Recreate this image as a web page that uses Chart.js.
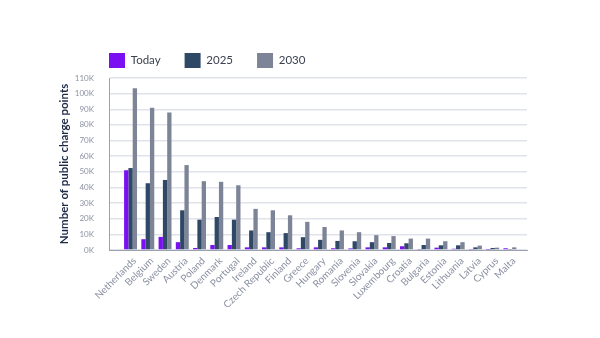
<!DOCTYPE html>
<html>
<head>
<meta charset="utf-8">
<script src="https://cdn.jsdelivr.net/npm/chart.js@4"></script>
<style>
  html, body { margin: 0; padding: 0; background: #ffffff; }
  #wrap { width: 600px; height: 338px; position: relative; }
</style>
</head>
<body>
<div id="wrap"><canvas id="chart" width="600" height="338"></canvas></div>
<script>
// Public charge points per country, in thousands
const countries = ['Netherlands', 'Belgium', 'Sweden', 'Austria', 'Poland', 'Denmark', 'Portugal',
  'Ireland', 'Czech Republic', 'Finland', 'Greece', 'Hungary', 'Romania', 'Slovenia', 'Slovakia',
  'Luxembourg', 'Croatia', 'Bulgaria', 'Estonia', 'Lithuania', 'Latvia', 'Cyprus', 'Malta'];
const today = [51, 6.9, 8.4, 5, 1.3, 3.2, 3.2, 1.7, 1.7, 1.7, 1.1, 1.7, 1.1, 1, 1.7, 1.7, 2.4, 0.3, 1.5, 0.8, 0.3, 0.2, 1.1];
const y2025 = [52.4, 42.7, 44.8, 25.4, 19.4, 21.1, 19.4, 12.5, 11.4, 10.8, 8.2, 6.5, 5.8, 5.6, 5, 4.5, 4.3, 3.2, 3, 3, 1.7, 1.3, 0.3];
const y2030 = [103.5, 91, 88, 54.3, 44, 43.6, 41.4, 26.3, 25.4, 22.2, 18, 14.7, 12.5, 11.4, 9.5, 8.9, 7.3, 7.3, 5.6, 5, 2.8, 1.5, 1.7];
const seriesNames = ['Today', '2025', '2030'];
const yTickValues = [0, 10, 20, 30, 40, 50, 60, 70, 80, 90, 100, 110];

const FONT = 'Lato, "Noto Sans", sans-serif';

function points(values) {
  return values.map((v, i) => ({ x: i, y: v * 1000 }));
}

// Puts the legend row flush with the left edge of the plot area
const legendAtPlotLeft = {
  id: 'legendAtPlotLeft',
  afterLayout(chart) {
    const lg = chart.legend;
    if (!lg) return;
    const pad = lg.options.labels.padding;
    const dx = chart.chartArea.left - pad - lg.left;
    lg.left += dx;
    lg.right += dx;
  }
};

new Chart(document.getElementById('chart'), {
  type: 'bar',
  data: {
    datasets: [
      { label: seriesNames[0], data: points(today), backgroundColor: '#7a10f2' },
      { label: seriesNames[1], data: points(y2025), backgroundColor: '#2f4866' },
      { label: seriesNames[2], data: points(y2030), backgroundColor: '#7d8498' }
    ]
  },
  options: {
    responsive: false,
    animation: false,
    devicePixelRatio: 1,
    layout: { padding: { left: 53, top: 29, right: 73, bottom: 0 } },
    datasets: { bar: { categoryPercentage: 0.75, barPercentage: 1.0, borderWidth: 0 } },
    plugins: {
      legend: {
        position: 'top',
        align: 'start',
        maxHeight: 51,
        labels: {
          boxWidth: 16,
          boxHeight: 15,
          padding: 24,
          color: '#3b4150',
          font: { family: FONT, size: 11.5 }
        }
      },
      tooltip: { enabled: false }
    },
    scales: {
      x: {
        type: 'linear',
        min: -1.25,
        max: 22.99,
        offset: false,
        grid: { display: false, drawTicks: false },
        border: { display: true, color: '#9ba1ae', width: 1 },
        afterBuildTicks(scale) {
          scale.ticks = countries.map((_, i) => ({ value: i }));
        },
        afterFit(scale) { scale.height = 88; },
        ticks: {
          autoSkip: false,
          minRotation: 45,
          maxRotation: 45,
          padding: 5,
          labelOffset: 4,
          color: '#8b91a2',
          font: { family: FONT, size: 10 },
          callback: (v) => countries[v] ?? ''
        }
      },
      y: {
        min: 0,
        max: 110000,
        afterBuildTicks(scale) {
          scale.ticks = yTickValues.map(v => ({ value: v * 1000 }));
        },
        afterFit(scale) { scale.width = 56; },
        grid: { color: '#e1e3ea', lineWidth: 1.5, drawTicks: false },
        border: { display: true, color: '#9ba1ae', width: 1 },
        ticks: {
          padding: 15,
          color: '#8b91a2',
          font: { family: FONT, size: 8 },
          callback: (v) => (v / 1000) + 'K'
        },
        title: {
          display: true,
          text: 'Number of public charge points',
          color: '#1e2b47',
          font: { family: FONT, size: 11.5, weight: 'bold' },
          padding: { top: 4, bottom: 4 }
        }
      }
    }
  },
  plugins: [legendAtPlotLeft]
});
</script>
</body>
</html>
